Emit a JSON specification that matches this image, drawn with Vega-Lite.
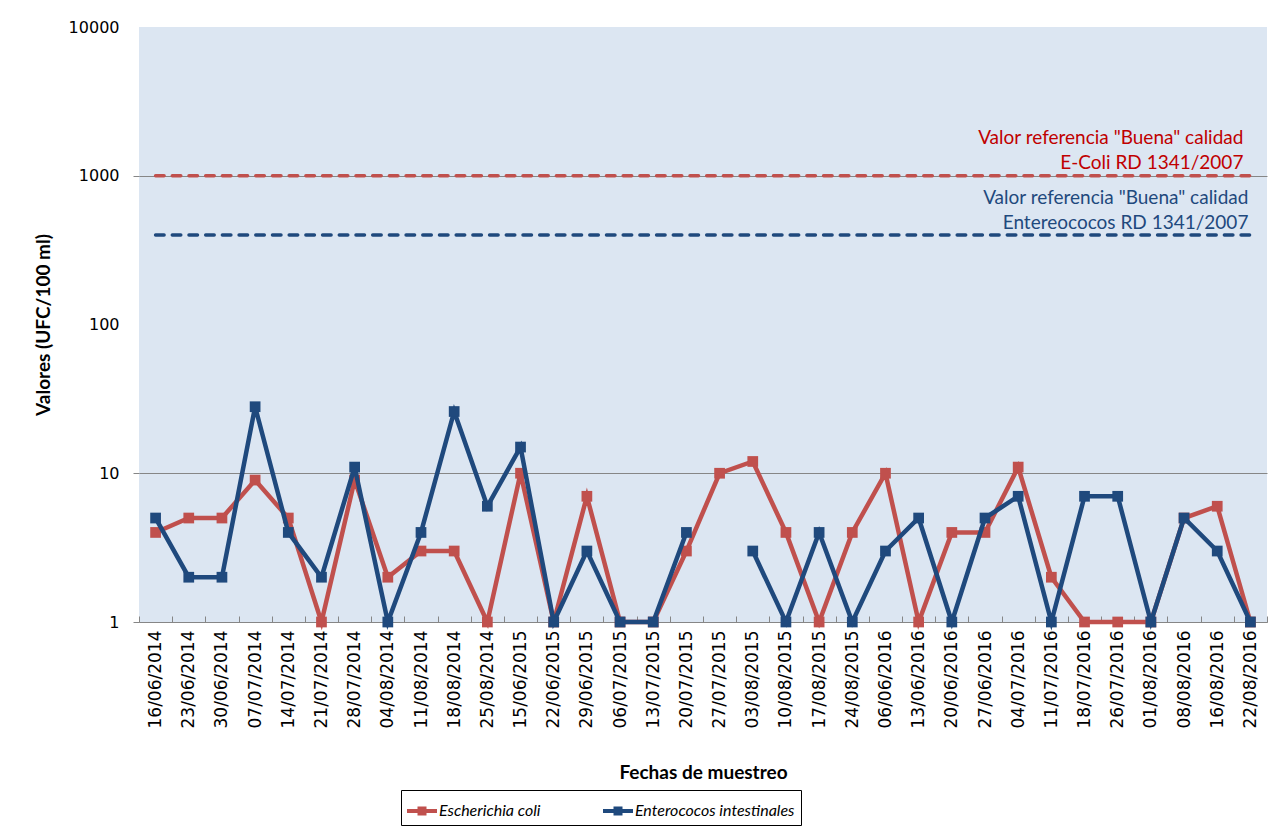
{
  "$schema": "https://vega.github.io/schema/vega-lite/v6.json",
  "width": 1128,
  "height": 595,
  "autosize": {"type": "none"},
  "padding": {"left": 139, "top": 27, "right": 16, "bottom": 211},
  "background": "#ffffff",
  "view": {"fill": "#DCE6F2", "stroke": null},
  "datasets": {
    "muestras": [
      {"fecha": "16/06/2014", "serie": "Escherichia coli", "valor": 4},
      {"fecha": "23/06/2014", "serie": "Escherichia coli", "valor": 5},
      {"fecha": "30/06/2014", "serie": "Escherichia coli", "valor": 5},
      {"fecha": "07/07/2014", "serie": "Escherichia coli", "valor": 9},
      {"fecha": "14/07/2014", "serie": "Escherichia coli", "valor": 5},
      {"fecha": "21/07/2014", "serie": "Escherichia coli", "valor": 1},
      {"fecha": "28/07/2014", "serie": "Escherichia coli", "valor": 9},
      {"fecha": "04/08/2014", "serie": "Escherichia coli", "valor": 2},
      {"fecha": "11/08/2014", "serie": "Escherichia coli", "valor": 3},
      {"fecha": "18/08/2014", "serie": "Escherichia coli", "valor": 3},
      {"fecha": "25/08/2014", "serie": "Escherichia coli", "valor": 1},
      {"fecha": "15/06/2015", "serie": "Escherichia coli", "valor": 10},
      {"fecha": "22/06/2015", "serie": "Escherichia coli", "valor": 1},
      {"fecha": "29/06/2015", "serie": "Escherichia coli", "valor": 7},
      {"fecha": "06/07/2015", "serie": "Escherichia coli", "valor": 1},
      {"fecha": "13/07/2015", "serie": "Escherichia coli", "valor": 1},
      {"fecha": "20/07/2015", "serie": "Escherichia coli", "valor": 3},
      {"fecha": "27/07/2015", "serie": "Escherichia coli", "valor": 10},
      {"fecha": "03/08/2015", "serie": "Escherichia coli", "valor": 12},
      {"fecha": "10/08/2015", "serie": "Escherichia coli", "valor": 4},
      {"fecha": "17/08/2015", "serie": "Escherichia coli", "valor": 1},
      {"fecha": "24/08/2015", "serie": "Escherichia coli", "valor": 4},
      {"fecha": "06/06/2016", "serie": "Escherichia coli", "valor": 10},
      {"fecha": "13/06/2016", "serie": "Escherichia coli", "valor": 1},
      {"fecha": "20/06/2016", "serie": "Escherichia coli", "valor": 4},
      {"fecha": "27/06/2016", "serie": "Escherichia coli", "valor": 4},
      {"fecha": "04/07/2016", "serie": "Escherichia coli", "valor": 11},
      {"fecha": "11/07/2016", "serie": "Escherichia coli", "valor": 2},
      {"fecha": "18/07/2016", "serie": "Escherichia coli", "valor": 1},
      {"fecha": "26/07/2016", "serie": "Escherichia coli", "valor": 1},
      {"fecha": "01/08/2016", "serie": "Escherichia coli", "valor": 1},
      {"fecha": "08/08/2016", "serie": "Escherichia coli", "valor": 5},
      {"fecha": "16/08/2016", "serie": "Escherichia coli", "valor": 6},
      {"fecha": "22/08/2016", "serie": "Escherichia coli", "valor": 1},
      {"fecha": "16/06/2014", "serie": "Enterococos intestinales", "valor": 5},
      {"fecha": "23/06/2014", "serie": "Enterococos intestinales", "valor": 2},
      {"fecha": "30/06/2014", "serie": "Enterococos intestinales", "valor": 2},
      {"fecha": "07/07/2014", "serie": "Enterococos intestinales", "valor": 28},
      {"fecha": "14/07/2014", "serie": "Enterococos intestinales", "valor": 4},
      {"fecha": "21/07/2014", "serie": "Enterococos intestinales", "valor": 2},
      {"fecha": "28/07/2014", "serie": "Enterococos intestinales", "valor": 11},
      {"fecha": "04/08/2014", "serie": "Enterococos intestinales", "valor": 1},
      {"fecha": "11/08/2014", "serie": "Enterococos intestinales", "valor": 4},
      {"fecha": "18/08/2014", "serie": "Enterococos intestinales", "valor": 26},
      {"fecha": "25/08/2014", "serie": "Enterococos intestinales", "valor": 6},
      {"fecha": "15/06/2015", "serie": "Enterococos intestinales", "valor": 15},
      {"fecha": "22/06/2015", "serie": "Enterococos intestinales", "valor": 1},
      {"fecha": "29/06/2015", "serie": "Enterococos intestinales", "valor": 3},
      {"fecha": "06/07/2015", "serie": "Enterococos intestinales", "valor": 1},
      {"fecha": "13/07/2015", "serie": "Enterococos intestinales", "valor": 1},
      {"fecha": "20/07/2015", "serie": "Enterococos intestinales", "valor": 4},
      {"fecha": "27/07/2015", "serie": "Enterococos intestinales", "valor": null},
      {"fecha": "03/08/2015", "serie": "Enterococos intestinales", "valor": 3},
      {"fecha": "10/08/2015", "serie": "Enterococos intestinales", "valor": 1},
      {"fecha": "17/08/2015", "serie": "Enterococos intestinales", "valor": 4},
      {"fecha": "24/08/2015", "serie": "Enterococos intestinales", "valor": 1},
      {"fecha": "06/06/2016", "serie": "Enterococos intestinales", "valor": 3},
      {"fecha": "13/06/2016", "serie": "Enterococos intestinales", "valor": 5},
      {"fecha": "20/06/2016", "serie": "Enterococos intestinales", "valor": 1},
      {"fecha": "27/06/2016", "serie": "Enterococos intestinales", "valor": 5},
      {"fecha": "04/07/2016", "serie": "Enterococos intestinales", "valor": 7},
      {"fecha": "11/07/2016", "serie": "Enterococos intestinales", "valor": 1},
      {"fecha": "18/07/2016", "serie": "Enterococos intestinales", "valor": 7},
      {"fecha": "26/07/2016", "serie": "Enterococos intestinales", "valor": 7},
      {"fecha": "01/08/2016", "serie": "Enterococos intestinales", "valor": 1},
      {"fecha": "08/08/2016", "serie": "Enterococos intestinales", "valor": 5},
      {"fecha": "16/08/2016", "serie": "Enterococos intestinales", "valor": 3},
      {"fecha": "22/08/2016", "serie": "Enterococos intestinales", "valor": 1}
    ],
    "referencias": [
      {"fecha": "16/06/2014", "valor": 1000, "tipo": "ecoli"},
      {"fecha": "22/08/2016", "valor": 1000, "tipo": "ecoli"},
      {"fecha": "16/06/2014", "valor": 400, "tipo": "entero"},
      {"fecha": "22/08/2016", "valor": 400, "tipo": "entero"}
    ],
    "textos": [
      {"fecha": "22/08/2016", "valor": 1000, "tipo": "ecoli", "texto": ["Valor referencia  \"Buena\" calidad", "E-Coli  RD 1341/2007"]},
      {"fecha": "22/08/2016", "valor": 400, "tipo": "entero", "texto": ["Valor referencia  \"Buena\" calidad", "Entereococos RD 1341/2007"]}
    ]
  },
  "encoding": {
    "x": {
      "field": "fecha",
      "type": "ordinal",
      "bandPosition": 0.5,
      "scale": {
        "type": "band",
        "paddingInner": 0,
        "paddingOuter": 0,
        "domain": ["16/06/2014", "23/06/2014", "30/06/2014", "07/07/2014", "14/07/2014", "21/07/2014", "28/07/2014", "04/08/2014", "11/08/2014", "18/08/2014", "25/08/2014", "15/06/2015", "22/06/2015", "29/06/2015", "06/07/2015", "13/07/2015", "20/07/2015", "27/07/2015", "03/08/2015", "10/08/2015", "17/08/2015", "24/08/2015", "06/06/2016", "13/06/2016", "20/06/2016", "27/06/2016", "04/07/2016", "11/07/2016", "18/07/2016", "26/07/2016", "01/08/2016", "08/08/2016", "16/08/2016", "22/08/2016"]
      },
      "axis": {
        "title": "Fechas de muestreo",
        "titleFont": "Lato",
        "titleFontSize": 19,
        "titleFontWeight": "bold",
        "titleColor": "#000000",
        "titlePadding": 36,
        "labelAngle": -90,
        "labelFont": "DejaVu Sans",
        "labelFontSize": 17,
        "labelColor": "#000000",
        "labelPadding": 14,
        "tickBand": "extent",
        "tickSize": -6,
        "tickColor": "#868686",
        "domainColor": "#868686",
        "grid": false
      }
    },
    "y": {
      "field": "valor",
      "type": "quantitative",
      "scale": {"type": "log", "domain": [1, 10000], "nice": false},
      "axis": {
        "title": "Valores (UFC/100 ml)",
        "titleFont": "Lato",
        "titleFontSize": 19,
        "titleFontWeight": "bold",
        "titleColor": "#000000",
        "titlePadding": 15,
        "values": [1, 10, 100, 1000, 10000],
        "format": "d",
        "labelFont": "DejaVu Sans",
        "labelFontSize": 16,
        "labelColor": "#000000",
        "labelPadding": 14,
        "domain": false,
        "tickSize": 6,
        "tickColor": "#868686",
        "tickOpacity": {"condition": {"test": "datum.value === 100 || datum.value === 10000", "value": 0}, "value": 1},
        "gridColor": "#868686",
        "gridWidth": 1,
        "gridOpacity": {"condition": {"test": "datum.value === 100 || datum.value === 10000", "value": 0}, "value": 1}
      }
    }
  },
  "layer": [
    {
      "data": {"name": "referencias"},
      "transform": [{"filter": "datum.tipo === 'ecoli'"}],
      "mark": {"type": "line", "color": "#C0504D", "strokeWidth": 3.5, "strokeDash": [8.5, 8.2], "strokeCap": "round"}
    },
    {
      "data": {"name": "referencias"},
      "transform": [{"filter": "datum.tipo === 'entero'"}],
      "mark": {"type": "line", "color": "#1F497D", "strokeWidth": 3.5, "strokeDash": [8.5, 8.2], "strokeCap": "round"}
    },
    {
      "data": {"name": "textos"},
      "transform": [{"filter": "datum.tipo === 'ecoli'"}],
      "mark": {"type": "text", "align": "right", "baseline": "bottom", "dx": -7, "dy": -28, "font": "Lato", "fontSize": 19, "lineHeight": 25, "color": "#C00000"},
      "encoding": {"text": {"field": "texto"}}
    },
    {
      "data": {"name": "textos"},
      "transform": [{"filter": "datum.tipo === 'entero'"}],
      "mark": {"type": "text", "align": "right", "baseline": "bottom", "dx": -2, "dy": -27, "font": "Lato", "fontSize": 19, "lineHeight": 25, "color": "#1F497D"},
      "encoding": {"text": {"field": "texto"}}
    },
    {
      "data": {"name": "muestras"},
      "transform": [{"filter": "datum.serie === 'Escherichia coli'"}],
      "mark": {"type": "line", "strokeWidth": 4.5, "invalid": "break-paths-filter-domains"},
      "encoding": {"color": {"field": "serie", "type": "nominal"}}
    },
    {
      "data": {"name": "muestras"},
      "transform": [{"filter": "datum.serie === 'Escherichia coli' && datum.valor != null"}],
      "mark": {"type": "point", "shape": "square", "filled": true, "size": 115, "opacity": 1},
      "encoding": {"color": {"field": "serie", "type": "nominal"}}
    },
    {
      "data": {"name": "muestras"},
      "transform": [{"filter": "datum.serie === 'Enterococos intestinales'"}],
      "mark": {"type": "line", "strokeWidth": 4.5, "invalid": "break-paths-filter-domains"},
      "encoding": {"color": {"field": "serie", "type": "nominal"}}
    },
    {
      "data": {"name": "muestras"},
      "transform": [{"filter": "datum.serie === 'Enterococos intestinales' && datum.valor != null"}],
      "mark": {"type": "point", "shape": "square", "filled": true, "size": 115, "opacity": 1},
      "encoding": {
        "color": {
          "field": "serie",
          "type": "nominal",
          "scale": {"domain": ["Escherichia coli", "Enterococos intestinales"], "range": ["#C0504D", "#1F497D"]},
          "legend": {
            "orient": "none",
            "legendX": 262,
            "legendY": 763,
            "direction": "horizontal",
            "title": null,
            "symbolType": "M-1,-0.13L1,-0.13L1,0.13L-1,0.13Z M-0.3,-0.3L0.3,-0.3L0.3,0.3L-0.3,0.3Z",
            "symbolSize": 900,
            "symbolStrokeWidth": 0,
            "labelFont": "Lato",
            "labelFontStyle": "italic",
            "labelFontSize": 16,
            "labelColor": "#000000",
            "labelOffset": 2,
            "columnPadding": 62,
            "padding": 6,
            "strokeColor": "#000000",
            "encode": {"symbols": {"update": {"fill": {"scale": "color", "field": "value"}, "opacity": {"value": 1}}}}
          }
        }
      }
    }
  ]
}
